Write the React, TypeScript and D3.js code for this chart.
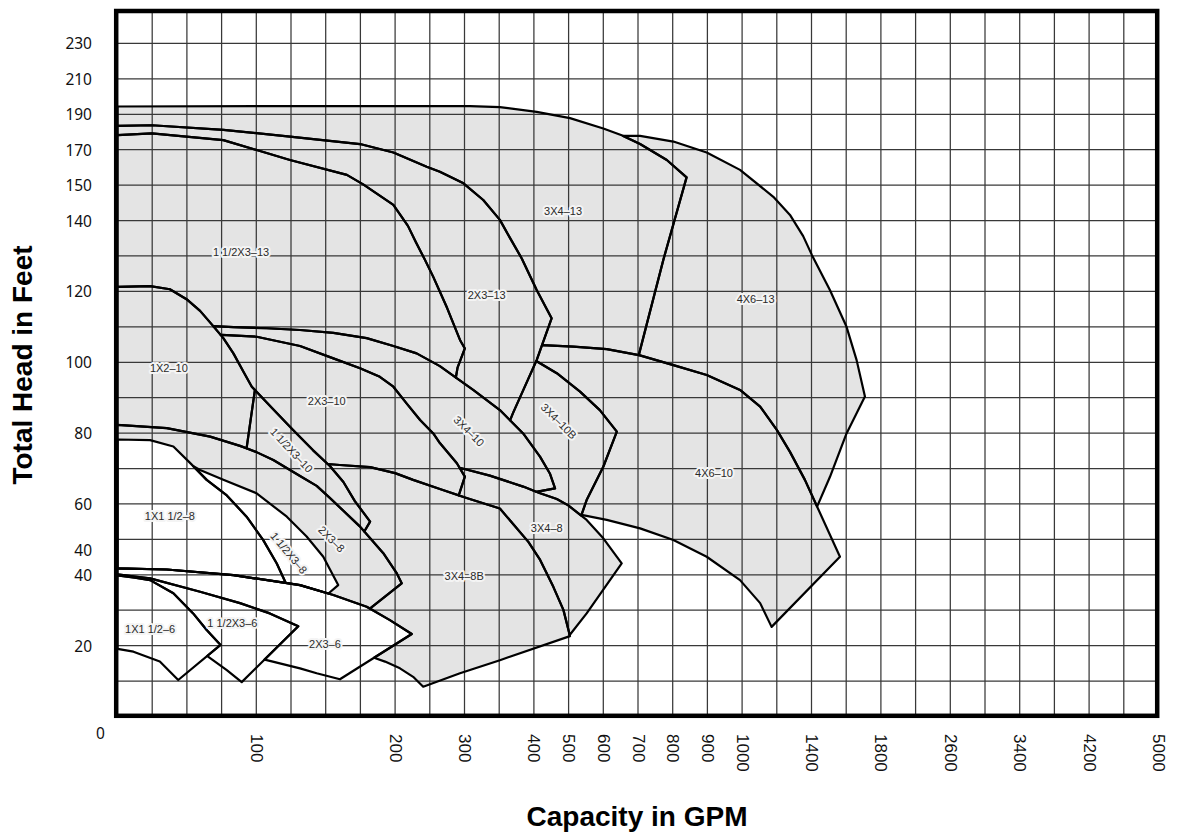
import React from "react";
import * as d3 from "d3";

type P = [number, number];

// ---------- axis tick labels (placed on grid column / row index) ----------
const xTickLabels = ["100", "200", "300", "400", "500", "600", "700", "800", "900", "1000", "1400", "1800", "2600", "3400", "4200", "5000"];
const xTickCols = [4, 8, 10, 12, 13, 14, 15, 16, 17, 18, 20, 22, 24, 26, 28, 30];
const yTickLabels = ["230", "210", "190", "170", "150", "140", "120", "100", "80", "60", "40", "40", "20"];
const yTickRows = [1, 2, 3, 4, 5, 6, 8, 10, 12, 14, 15.3, 16, 18];

// ---------- pump curves, in grid units [column, row-from-top] ----------
const c3x4_13: P[] = [[0, 2.78], [5.26, 2.77], [10.16, 2.77], [11.02, 2.8], [12.08, 2.93], [13.04, 3.11], [14.0, 3.4], [14.53, 3.59], [15.06, 3.84], [15.83, 4.29], [16.4, 4.78], [15.73, 7.11], [15.03, 9.77], [14.97, 9.99]];
const c4x6_13: P[] = [[14.34, 3.61], [15.06, 3.61], [16.02, 3.77], [16.98, 4.08], [17.94, 4.57], [18.9, 5.33], [19.38, 5.84], [19.76, 6.44], [20.01, 6.97], [20.53, 7.96], [21.01, 9.0], [21.3, 9.94], [21.54, 10.97], [21.01, 12.01], [20.53, 13.24], [20.07, 14.28]];
const c4x6_10: P[] = [[12.06, 9.51], [13.14, 9.56], [14.1, 9.63], [15.03, 9.8], [16.02, 10.08], [16.98, 10.36], [17.94, 10.78], [18.52, 11.25], [19.0, 11.91], [19.38, 12.53], [19.81, 13.32], [20.82, 15.49], [18.85, 17.47], [18.52, 16.8], [17.94, 16.15], [16.98, 15.49], [16.02, 15.02], [15.06, 14.69], [14.1, 14.45], [13.18, 14.27]];
const c2x3_13: P[] = [[0, 3.33], [0.99, 3.31], [3.05, 3.44], [4.97, 3.63], [6.99, 3.84], [7.95, 4.08], [8.91, 4.48], [9.29, 4.62], [9.97, 4.95], [10.54, 5.42], [11.02, 5.98], [11.31, 6.49], [11.65, 7.07], [12.08, 7.96], [12.51, 8.76], [12.08, 9.94], [11.4, 11.43], [11.2, 11.91]];
const c112x3_13: P[] = [[0, 3.59], [0.99, 3.54], [3.05, 3.73], [4.01, 4.01], [4.97, 4.29], [6.61, 4.71], [7.08, 4.98], [7.95, 5.56], [8.37, 6.15], [8.6, 6.61], [8.86, 7.11], [9.1, 7.59], [9.5, 8.47], [9.87, 9.37], [10.01, 9.61], [9.8, 10.15], [9.71, 10.67]];
const c3x4_10: P[] = [[2.52, 8.97], [3.34, 9.01], [4.3, 9.04], [5.26, 9.09], [6.22, 9.17], [7.18, 9.32], [7.95, 9.54], [8.62, 9.75], [9.29, 10.11], [10.25, 10.78], [11.02, 11.35], [11.69, 12.01], [12.18, 12.67], [12.46, 13.14], [12.61, 13.56], [12.22, 13.63], [11.97, 13.67]];
const c1x2_10: P[] = [[0, 7.87], [0.94, 7.85], [1.51, 7.94], [1.99, 8.22], [2.38, 8.55], [2.76, 8.98], [3.05, 9.32], [3.34, 9.75], [3.63, 10.27], [3.87, 10.69], [3.96, 10.78], [3.73, 12.36], [3.69, 12.65]];
const c2x3_10: P[] = [[2.67, 9.2], [3.0, 9.23], [4.01, 9.28], [5.26, 9.54], [6.22, 9.89], [6.99, 10.17], [7.56, 10.41], [7.95, 10.69], [8.33, 11.16], [8.72, 11.63], [9.1, 12.01], [9.29, 12.28], [9.78, 12.85], [10.01, 13.23], [9.82, 13.8], [9.78, 13.92]];
const c112x3_10: P[] = [[3.96, 10.78], [4.48, 11.32], [5.06, 11.91], [5.63, 12.48], [6.12, 12.93], [6.51, 13.38], [6.84, 13.92], [7.28, 14.5], [7.05, 14.88], [6.96, 15.02]];
const c3x4_8B: P[] = [[5.89, 12.86], [6.41, 12.9], [7.28, 12.96], [8.0, 13.13], [8.52, 13.32], [9.29, 13.58], [10.06, 13.83], [11.02, 14.13], [11.84, 15.07], [12.18, 15.58], [12.56, 16.34], [12.85, 16.99], [13.04, 17.73], [11.02, 18.41], [9.87, 18.78], [8.81, 19.16], [8.52, 18.88], [8.14, 18.64], [7.71, 18.45], [7.33, 18.32]];
const c2x3_8: P[] = [[0, 11.77], [1.42, 11.86], [2.67, 12.1], [3.53, 12.36], [3.99, 12.53], [4.49, 12.76], [5.26, 13.21], [5.74, 13.49], [6.12, 13.83], [6.99, 14.64], [7.66, 15.39], [8.05, 15.96], [8.19, 16.24], [7.16, 17.04]];
const c1x1_8: P[] = [[0, 12.18], [0.94, 12.2], [1.61, 12.38], [2.09, 12.84], [2.57, 13.32], [3.15, 13.76], [3.72, 14.36], [4.2, 15.02], [4.59, 15.68], [4.92, 16.38], [4.97, 16.51]];
const c112x3_8: P[] = [[1.97, 12.82], [2.38, 13.04], [3.05, 13.32], [4.01, 13.7], [4.88, 14.36], [5.45, 14.92], [5.93, 15.49], [6.36, 16.29], [6.03, 16.57], [5.92, 16.67]];
const c2x3_6: P[] = [[0, 15.82], [1.42, 15.85], [3.34, 16.01], [5.26, 16.29], [6.22, 16.57], [7.18, 16.9], [7.85, 17.28], [8.48, 17.67], [6.41, 18.95], [5.74, 18.78], [5.26, 18.64], [4.3, 18.41], [4.05, 18.35]];
const c112x3_6: P[] = [[0, 15.99], [0.5, 16.05], [0.94, 16.1], [2.38, 16.48], [3.53, 16.8], [4.39, 17.09], [5.21, 17.45], [3.58, 19.03], [3.15, 18.69], [2.6, 18.3], [2.38, 18.19]];
const c1x1_6: P[] = [[0, 16.02], [0.5, 16.08], [0.94, 16.15], [1.61, 16.52], [2.18, 17.09], [2.57, 17.56], [2.97, 17.98], [1.75, 18.97], [1.22, 18.45], [0.46, 18.17], [0, 18.09]];
const c3x4_8: P[] = [[9.52, 12.93], [9.82, 12.97], [10.73, 13.2], [11.69, 13.51], [12.18, 13.7], [12.66, 13.86], [12.99, 14.04], [13.52, 14.45], [14.0, 14.97], [14.53, 15.68], [13.52, 17.09], [12.95, 17.8]];
const c3x4_10B: P[] = [[11.92, 9.88], [12.66, 10.31], [13.33, 10.83], [13.9, 11.35], [14.39, 11.96], [14.0, 12.95], [13.52, 13.89], [13.3, 14.51]];

// ---------- region labels ----------
const labelNames = ["3X4–13", "1 1/2X3–13", "2X3–13", "4X6–13", "1X2–10", "2X3–10", "3X4–10", "3X4–10B", "4X6–10", "1 1/2X3–10", "1X1 1/2–8", "1 1/2X3–8", "2X3–8", "3X4–8", "3X4–8B", "1X1 1/2–6", "1 1/2X3–6", "2X3–6"];
const labelCols = [12.84, 3.56, 10.64, 18.39, 1.48, 6.03, 10.13, 12.72, 17.19, 5.02, 1.51, 4.94, 6.17, 12.37, 9.99, 0.94, 3.31, 5.98];
const labelRows = [5.74, 6.89, 8.09, 8.21, 10.16, 11.09, 11.94, 11.66, 13.13, 12.48, 14.34, 15.38, 14.99, 14.68, 16.03, 17.53, 17.35, 17.95];
const labelAngles = [0, 0, 0, 0, 0, 0, 45, 45, 0, 47, 0, 50, 45, 0, 0, 0, 0, 0];

// ---------- geometry helpers ----------
function segHit(a: P, b: P, c: P, d: P): number | null {
  const rx = b[0] - a[0], ry = b[1] - a[1];
  const sx = d[0] - c[0], sy = d[1] - c[1];
  const den = rx * sy - ry * sx;
  if (Math.abs(den) < 1e-12) return null;
  const qx = c[0] - a[0], qy = c[1] - a[1];
  const t = (qx * sy - qy * sx) / den;
  const u = (qx * ry - qy * rx) / den;
  const e = 1e-9;
  if (t < -e || t > 1 + e || u < -e || u > 1 + e) return null;
  return Math.min(1, Math.max(0, t));
}
function hit(poly: P[], cutter: P[]): number {
  for (let i = 0; i < poly.length - 1; i++) {
    let best = Infinity;
    for (let j = 0; j < cutter.length - 1; j++) {
      const t = segHit(poly[i], poly[i + 1], cutter[j], cutter[j + 1]);
      if (t !== null && t < best) best = t;
    }
    if (best < Infinity) return i + best;
  }
  let bi = 0, bd = Infinity;
  poly.forEach((p, i) => cutter.forEach((q) => {
    const dd = (p[0] - q[0]) ** 2 + (p[1] - q[1]) ** 2;
    if (dd < bd) { bd = dd; bi = i; }
  }));
  return bi;
}
function pointAt(poly: P[], s: number): P {
  const i = Math.min(Math.max(Math.floor(s), 0), poly.length - 2);
  const t = s - i;
  const a = poly[i], b = poly[i + 1];
  return [a[0] + (b[0] - a[0]) * t, a[1] + (b[1] - a[1]) * t];
}
type Cut = P[] | number | null;
function param(poly: P[], c: Cut, def: number): number {
  if (c === null) return def;
  if (typeof c === "number") return c;
  return hit(poly, c);
}
function piece(poly: P[], from: Cut, to: Cut): P[] {
  const s0 = param(poly, from, 0);
  const s1 = param(poly, to, poly.length - 1);
  const lo = Math.min(s0, s1), hi = Math.max(s0, s1);
  const pts: P[] = [pointAt(poly, lo)];
  for (let k = Math.floor(lo) + 1; k < hi; k++) pts.push(poly[k]);
  pts.push(pointAt(poly, hi));
  return s0 <= s1 ? pts : pts.reverse();
}
function nearestIdx(poly: P[], p: P): number {
  let bi = 0, bd = Infinity;
  poly.forEach((q, i) => {
    const dd = (p[0] - q[0]) ** 2 + (p[1] - q[1]) ** 2;
    if (dd < bd) { bd = dd; bi = i; }
  });
  return bi;
}

const GRAY = "#e4e4e4";
const WHITE = "#ffffff";

function buildRegions(): { fill: string; pts: P[] }[] {
  const corner = nearestIdx(c1x2_10, c112x3_10[0]);
  return [
    { fill: GRAY, pts: [...piece(c4x6_13, c3x4_13, c4x6_10), ...piece(c4x6_10, c4x6_13, c3x4_13), ...piece(c3x4_13, c4x6_10, c4x6_13)] },
    { fill: GRAY, pts: [...piece(c3x4_13, null, c4x6_10), ...piece(c4x6_10, c3x4_13, c2x3_13), ...piece(c2x3_13, c4x6_10, 0)] },
    { fill: GRAY, pts: [...piece(c2x3_13, null, c3x4_10), ...piece(c3x4_10, c2x3_13, c112x3_13), ...piece(c112x3_13, c3x4_10, 0)] },
    { fill: GRAY, pts: [...piece(c112x3_13, null, c3x4_10), ...piece(c3x4_10, c112x3_13, c1x2_10), ...piece(c1x2_10, c3x4_10, 0)] },
    { fill: GRAY, pts: [...piece(c4x6_10, c2x3_13, c3x4_10B), ...piece(c3x4_10B, c4x6_10, c2x3_13), ...piece(c2x3_13, c3x4_10B, c4x6_10)] },
    { fill: GRAY, pts: [...piece(c3x4_10B, c2x3_13, c3x4_8), ...piece(c3x4_8, c3x4_10B, c3x4_10), ...piece(c3x4_10, c3x4_8, c2x3_13), ...piece(c2x3_13, c3x4_10, c3x4_10B)] },
    { fill: GRAY, pts: [...piece(c3x4_10, c1x2_10, c3x4_8), ...piece(c3x4_8, c3x4_10, c2x3_10), ...piece(c2x3_10, c3x4_8, c1x2_10), ...piece(c1x2_10, c2x3_10, c3x4_10)] },
    { fill: GRAY, pts: [...piece(c1x2_10, null, c2x3_8), ...piece(c2x3_8, c1x2_10, 0)] },
    { fill: GRAY, pts: [...piece(c2x3_10, c1x2_10, c3x4_8B), ...piece(c3x4_8B, c2x3_10, c112x3_10), ...piece(c112x3_10, c3x4_8B, 0), ...piece(c1x2_10, corner, c2x3_10)] },
    { fill: GRAY, pts: [...piece(c3x4_8, c2x3_10, c3x4_8B), ...piece(c3x4_8B, c3x4_8, c2x3_10), ...piece(c2x3_10, c3x4_8B, c3x4_8)] },
    { fill: GRAY, pts: [...piece(c112x3_10, null, c2x3_8), ...piece(c2x3_8, c112x3_10, c1x2_10), ...piece(c1x2_10, c2x3_8, corner)] },
    { fill: GRAY, pts: [...piece(c3x4_8B, c112x3_10, c2x3_6), ...piece(c2x3_6, c3x4_8B, c2x3_8), ...piece(c2x3_8, c2x3_6, c112x3_10), ...piece(c112x3_10, c2x3_8, c3x4_8B)] },
    { fill: GRAY, pts: [...piece(c2x3_8, null, c2x3_6), ...piece(c2x3_6, c2x3_8, 0)] },
    { fill: WHITE, pts: [...piece(c1x1_8, null, c2x3_6), ...piece(c2x3_6, c1x1_8, 0)] },
    { fill: WHITE, pts: [...piece(c112x3_8, c1x1_8, c2x3_6), ...piece(c2x3_6, c112x3_8, c1x1_8), ...piece(c1x1_8, c2x3_6, c112x3_8)] },
    { fill: WHITE, pts: [...piece(c2x3_6, null, c112x3_6), ...piece(c112x3_6, c2x3_6, 0)] },
    { fill: WHITE, pts: [...piece(c112x3_6, null, c1x1_6), ...piece(c1x1_6, c112x3_6, 0)] },
    { fill: WHITE, pts: [...c1x1_6] },
  ];
}

const FONT = "'Liberation Sans', Arial, Helvetica, sans-serif";

export default function App() {
  const W = 1177, H = 835;
  const x = d3.scaleLinear().domain([0, 30]).range([117.5, 1158.5]);
  const y = d3.scaleLinear().domain([0, 20]).range([8, 716.5]);
  const line = d3.line<P>().x((d) => x(d[0])).y((d) => y(d[1]));
  const regions = buildRegions().map((r) => ({ d: (line(r.pts) || "") + "Z", fill: r.fill }));

  const left = 116.2, right = 1157.2, top = 11, bottom = 715.8;
  const cols = d3.range(1, 30);
  const rows = d3.range(1, 20);

  return (
    <svg width={W} height={H} style={{ position: "absolute", left: 0, top: 0, background: "#fff" }} fontFamily={FONT}>
      <rect x={0} y={0} width={W} height={H} fill="#fff" />
      {regions.map((r, i) => (
        <path key={"f" + i} d={r.d} fill={r.fill} stroke="none" />
      ))}
      <g stroke="#383838" strokeWidth={1.25}>
        {cols.map((c) => (
          <line key={"vc" + c} x1={x(c)} x2={x(c)} y1={top} y2={bottom} />
        ))}
        {rows.map((r) => (
          <line key={"hr" + r} x1={left} x2={right} y1={y(r)} y2={y(r)} />
        ))}
      </g>
      {regions.map((r, i) => (
        <path key={"s" + i} d={r.d} fill="none" stroke="#000" strokeWidth={2.2} strokeLinejoin="round" />
      ))}
      <g fontSize={11} fill="#2a2a2a">
        {labelNames.map((n, i) => (
          <text
            key={"l" + i}
            transform={`translate(${x(labelCols[i])},${y(labelRows[i])}) rotate(${labelAngles[i]})`}
            textAnchor="middle"
            dominantBaseline="central"
            stroke="#f4f4f4"
            strokeWidth={4}
            strokeLinejoin="round"
            style={{ paintOrder: "stroke" }}
          >
            {n}
          </text>
        ))}
      </g>
      <rect x={left} y={top} width={right - left} height={bottom - top} fill="none" stroke="#000" strokeWidth={4.5} />
      <g fontSize={17} fill="#111">
        {xTickLabels.map((t, i) => (
          <text key={"xt" + i} transform={`translate(${x(xTickCols[i])},734) rotate(90)`} textAnchor="start" dominantBaseline="central">
            {t}
          </text>
        ))}
      </g>
      <g fontSize={15.5} fill="#111" fontFamily="'Noto Sans', 'Open Sans', sans-serif">
        {yTickLabels.map((t, i) => (
          <text key={"yt" + i} x={92} y={y(yTickRows[i])} textAnchor="end" dominantBaseline="central">
            {t}
          </text>
        ))}
        <text x={x(0) - 17} y={y(20) + 16} textAnchor="middle" dominantBaseline="central">0</text>
      </g>
      <text x={637} y={826} textAnchor="middle" fontSize={28} fontWeight="bold" fill="#000">
        Capacity in GPM
      </text>
      <text transform={`translate(32,365) rotate(-90)`} textAnchor="middle" fontSize={28} fontWeight="bold" fill="#000">
        Total Head in Feet
      </text>
    </svg>
  );
}
